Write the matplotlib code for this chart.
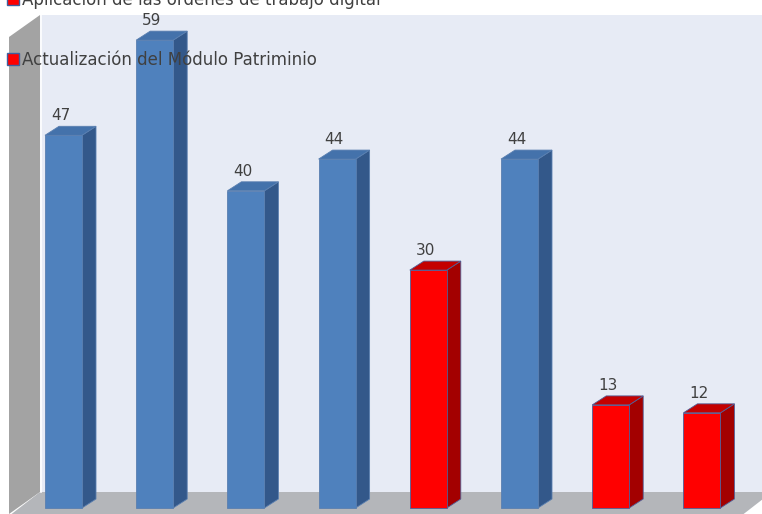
import matplotlib
matplotlib.use("Agg")
import matplotlib.pyplot as plt
from matplotlib.patches import Polygon, Rectangle

# ---- data ----
values = [47, 59, 40, 44, 30, 44, 13, 12]
series = ["blue", "blue", "blue", "blue", "red", "blue", "red", "red"]
legend_labels = ["Aplicación de las órdenes de trabajo digital",
                 "Actualización del Módulo Patriminio"]

W, H = 762, 514
fig = plt.figure(figsize=(W / 100, H / 100), dpi=100)
fig.patch.set_facecolor("white")
ax = fig.add_axes([0, 0, 1, 1])
ax.set_axis_off()

# scale: y=0 at pixel 508 (from top), 7.93 px per unit; bars every 91.2 px
px_per_unit = 7.93
ax.set_ylim(-(H - 508) / px_per_unit, 508 / px_per_unit)
ax.set_xlim(-63.5 / 91.2, (W - 63.5) / 91.2)

def P(x, y):
    """pixel (from top-left) -> figure fraction"""
    return (x / W, 1 - y / H)

# walls / floor (decoration)
back = Polygon([P(40, 15), P(W + 5, 15), P(W + 5, 492), P(40, 492)],
               closed=True, transform=fig.transFigure, facecolor="#e7ebf5",
               edgecolor="none", zorder=0)
left = Polygon([P(9, 37), P(40, 15), P(40, 492), P(9, 514)],
               closed=True, transform=fig.transFigure, facecolor="#a3a3a3",
               edgecolor="none", zorder=0)
floor = Polygon([P(40, 492), P(772, 492), P(741, 516), P(9, 516)],
                closed=True, transform=fig.transFigure, facecolor="#b4b6ba",
                edgecolor="none", zorder=0)
for p in (back, left, floor):
    p.set_clip_on(False)
    ax.add_patch(p)
ax.plot([P(41, 0)[0], P(41, 0)[0]], [P(0, 15)[1], P(0, 492)[1]],
        transform=fig.transFigure, color="white", lw=1.2, zorder=0.5)

colors = {
    "blue": ("#4f81bd", "#33588a", "#4472ab"),
    "red": ("#ff0000", "#a30000", "#c40000"),
}
edge = {"blue": "#5a7fb0", "red": "#4f5f98"}

w = 37 / 91.2
dx = 14 / 91.2
dy = 9 / px_per_unit

for i, (v, s) in enumerate(zip(values, series)):
    front_c, side_c, top_c = colors[s]
    l, r = i - w / 2, i + w / 2
    side = Polygon([(r, 0), (r, v), (r + dx, v + dy), (r + dx, dy)],
                   closed=True, facecolor=side_c, edgecolor=edge[s], lw=0.6, zorder=2)
    top = Polygon([(l, v), (r, v), (r + dx, v + dy), (l + dx, v + dy)],
                  closed=True, facecolor=top_c, edgecolor=edge[s], lw=0.6, zorder=2)
    front = Polygon([(l, 0), (r, 0), (r, v), (l, v)],
                    closed=True, facecolor=front_c, edgecolor=edge[s], lw=0.6, zorder=3)
    for p in (side, top, front):
        ax.add_patch(p)
    ax.text(i - 0.03, v + dy + 0.75, str(v), ha="center", va="baseline",
            fontsize=11, color="#404040", zorder=4)

# legend entries
for k, (lab, base) in enumerate(zip(legend_labels, [5, 65])):
    sq = Rectangle(P(7, base), 12 / W, 12 / H, transform=fig.transFigure,
                   facecolor="#ff0000", edgecolor="#3f5f9f", lw=1.0, zorder=5)
    sq.set_clip_on(False)
    ax.add_patch(sq)
    fig.text(22 / W, 1 - base / H, lab, ha="left", va="baseline",
             fontsize=12, color="#404040", zorder=6)

fig.savefig("out.png", dpi=100, facecolor="white")
